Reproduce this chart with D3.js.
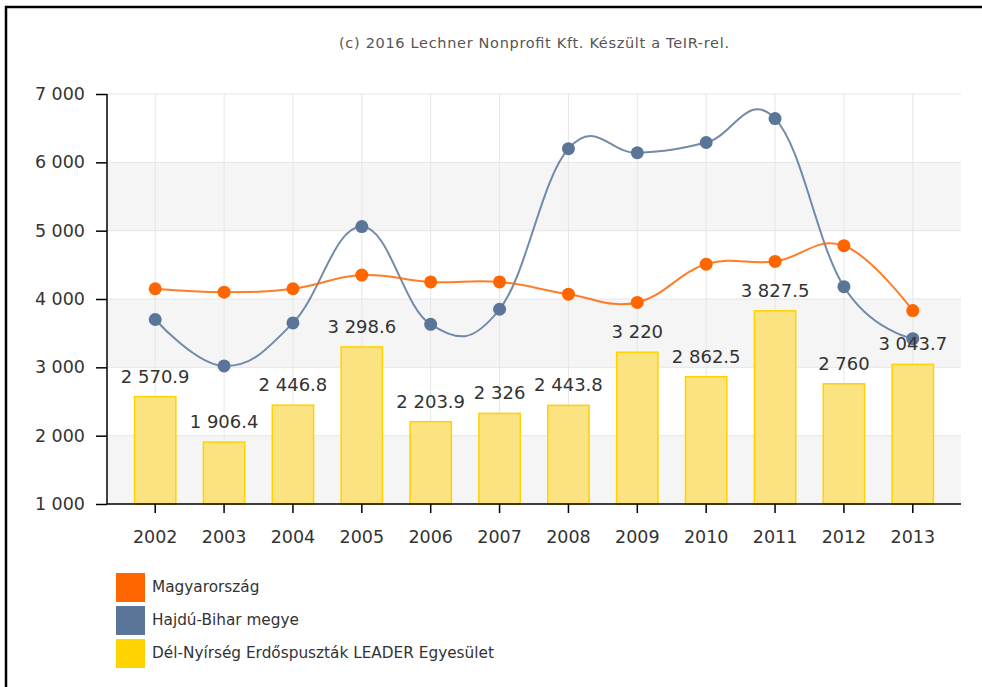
<!DOCTYPE html>
<html>
<head>
<meta charset="utf-8">
<script src="https://cdn.jsdelivr.net/npm/d3@7"></script>
<style>
  html, body { margin: 0; padding: 0; background: #fff; }
  svg { display: block; font-family: "DejaVu Sans", Verdana, sans-serif; }
</style>
</head>
<body>
<div id="chart"></div>
<script>
// data
var years = ["2002", "2003", "2004", "2005", "2006", "2007", "2008", "2009", "2010", "2011", "2012", "2013"];
var magyarorszag = [4150, 4100, 4150, 4350, 4250, 4250, 4070, 3950, 4510, 4550, 4780, 3830];
var hajduBihar = [3700, 3020, 3650, 5060, 3630, 3850, 6200, 6140, 6290, 6640, 4180, 3420];
var leader = [2570.9, 1906.4, 2446.8, 3298.6, 2203.9, 2326, 2443.8, 3220, 2862.5, 3827.5, 2760, 3043.7];
var yTicks = [1000, 2000, 3000, 4000, 5000, 6000, 7000];
var seriesNames = ["Magyarország", "Hajdú-Bihar megye", "Dél-Nyírség Erdőspuszták LEADER Egyesület"];
var seriesColors = ["#ff6600", "#5b7599", "#ffd200"];
var title = "(c) 2016 Lechner Nonprofit Kft. Készült a TeIR-rel.";

var width = 982, height = 687;
var plot = { left: 107, right: 961, top: 94, bottom: 504 };

var svg = d3.select("#chart").append("svg")
  .attr("width", width)
  .attr("height", height);

// frame
svg.append("path")
  .attr("d", "M6," + (height + 5) + "V7H" + (width + 5))
  .attr("fill", "none")
  .attr("stroke", "#000")
  .attr("stroke-width", 2.5);

svg.append("text")
  .attr("x", (plot.left + plot.right) / 2)
  .attr("y", 48)
  .attr("text-anchor", "middle")
  .attr("textLength", 390)
  .attr("lengthAdjust", "spacing")
  .style("font-size", "14.5px")
  .style("fill", "#555")
  .text(title);

var x = d3.scaleBand().domain(years).range([plot.left, plot.right]).padding(0.4);
var xc = function (d) { return x(d) + x.bandwidth() / 2; };
var y = d3.scaleLinear().domain([1000, 7000]).range([plot.bottom, plot.top]);

// alternating bands
var g = svg.append("g");
g.selectAll(".band")
  .data(yTicks.slice(0, -1).filter(function (d, i) { return i % 2 === 0; }))
  .enter().append("rect")
  .attr("x", plot.left)
  .attr("width", plot.right - plot.left)
  .attr("y", function (d) { return y(d + 1000); })
  .attr("height", function (d) { return y(d) - y(d + 1000); })
  .style("fill", "#f5f5f5");

g.selectAll(".hgrid")
  .data(yTicks)
  .enter().append("line")
  .attr("x1", plot.left).attr("x2", plot.right)
  .attr("y1", function (d) { return y(d); })
  .attr("y2", function (d) { return y(d); })
  .style("stroke", "#e6e6e6");

g.selectAll(".vgrid")
  .data(years)
  .enter().append("line")
  .attr("x1", xc).attr("x2", xc)
  .attr("y1", plot.top).attr("y2", plot.bottom)
  .style("stroke", "#e6e6e6");

// bars
g.selectAll(".bar")
  .data(leader)
  .enter().append("rect")
  .attr("x", function (d, i) { return x(years[i]); })
  .attr("width", x.bandwidth())
  .attr("y", function (d) { return y(d); })
  .attr("height", function (d) { return y(1000) - y(d); })
  .style("fill", "#fbe17a")
  .style("fill-opacity", 0.95)
  .style("stroke", "#ffd200")
  .style("stroke-width", 1.5);

// lines
var line = d3.line()
  .x(function (d, i) { return xc(years[i]); })
  .y(function (d) { return y(d); })
  .curve(d3.curveCardinal.tension(-0.2));

[hajduBihar, magyarorszag].forEach(function (series) {
  var color = series === magyarorszag ? seriesColors[0] : seriesColors[1];
  svg.append("path")
    .attr("d", line(series))
    .attr("fill", "none")
    .attr("stroke", color)
    .attr("stroke-opacity", 0.85)
    .attr("stroke-width", 2);
  svg.selectAll(null)
    .data(series)
    .enter().append("circle")
    .attr("cx", function (d, i) { return xc(years[i]); })
    .attr("cy", function (d) { return y(d); })
    .attr("r", 6.5)
    .style("fill", color);
});

// axes
var fmt = function (d) { return d3.format(",")(d).replace(/,/g, " "); };

var yAxis = svg.append("g")
  .attr("transform", "translate(" + plot.left + ",0)")
  .call(d3.axisLeft(y).tickValues(yTicks).tickSize(11).tickPadding(11).tickFormat(fmt));
yAxis.select(".domain").attr("d", "M0," + plot.top + "V" + plot.bottom).attr("stroke-width", 1.5);

var xAxis = svg.append("g")
  .attr("transform", "translate(0," + plot.bottom + ")")
  .call(d3.axisBottom(x).tickSize(9).tickPadding(18));
xAxis.select(".domain").attr("d", "M" + plot.left + ",0H" + plot.right).attr("stroke-width", 1.5);

svg.selectAll(".tick line").attr("stroke-width", 1.5);
svg.selectAll(".tick text")
  .style("font-size", "17.5px")
  .style("font-family", "'DejaVu Sans', Verdana, sans-serif")
  .style("fill", "#333");

// bar labels
svg.selectAll(".lbl")
  .data(leader)
  .enter().append("text")
  .attr("x", function (d, i) { return xc(years[i]); })
  .attr("y", function (d) { return y(d) - 14; })
  .attr("text-anchor", "middle")
  .style("font-size", "18px")
  .style("fill", "#333")
  .text(function (d) { return fmt(d); });

// legend
var legend = svg.append("g");
seriesNames.forEach(function (name, i) {
  var ly = 573 + i * 33;
  legend.append("rect")
    .attr("x", 116).attr("y", ly)
    .attr("width", 29).attr("height", 29)
    .style("fill", seriesColors[i]);
  legend.append("text")
    .attr("x", 152).attr("y", ly + 19)
    .style("font-size", "15.3px")
    .style("fill", "#333")
    .text(name);
});
</script>
</body>
</html>
